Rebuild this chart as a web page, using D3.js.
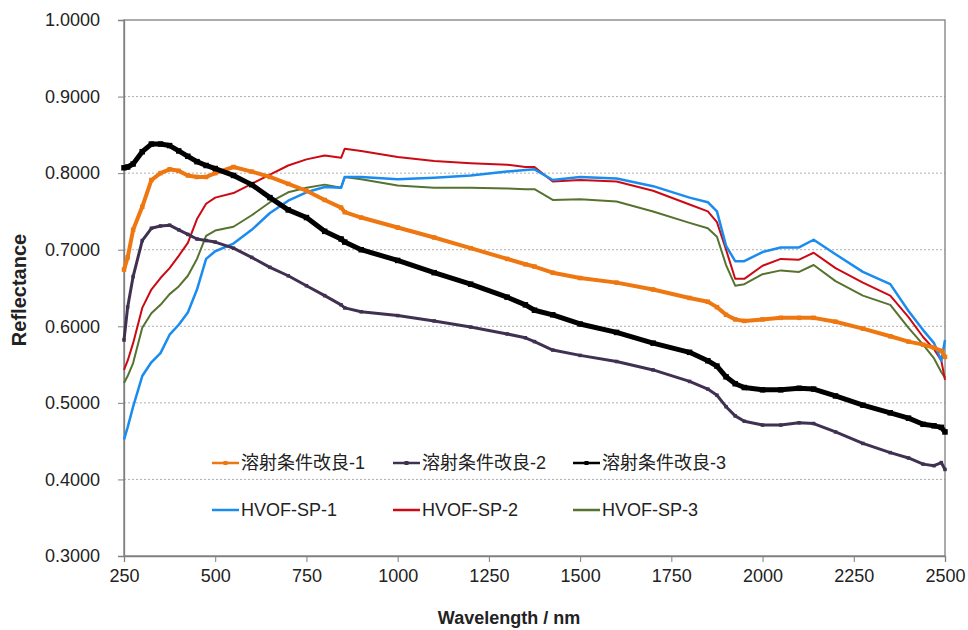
<!DOCTYPE html>
<html>
	<head>
		<meta charset="utf-8">
		<title>Reflectance</title>
		<style>
			body { margin: 0; background: #fff; overflow: hidden; }
			svg { position: absolute; font-family: "Liberation Sans", Arial, sans-serif; }
		</style>
		<script src="https://cdn.jsdelivr.net/npm/d3@7/dist/d3.min.js"></script>
	</head>
	<body>
		<script>

		// wavelength grid (nm)
		var wavelength = [250, 260, 275, 300, 325, 350, 375, 400, 425, 450, 475, 500, 550, 600, 650, 700, 750, 800, 845, 855, 900, 1000, 1100, 1200, 1300, 1350, 1375, 1425, 1500, 1600, 1700, 1800, 1850, 1875, 1900, 1925, 1950, 2000, 2050, 2100, 2140, 2200, 2275, 2350, 2400, 2440, 2470, 2490, 2500];

		var kairyo1 = [0.674, 0.690, 0.726, 0.756, 0.791, 0.800, 0.805, 0.803, 0.797, 0.795, 0.795, 0.800, 0.808, 0.802, 0.795, 0.786, 0.777, 0.765, 0.755, 0.749, 0.742, 0.729, 0.716, 0.702, 0.688, 0.681, 0.678, 0.670, 0.663, 0.657, 0.648, 0.637, 0.632, 0.625, 0.615, 0.609, 0.607, 0.609, 0.611, 0.611, 0.611, 0.606, 0.597, 0.587, 0.580, 0.576, 0.572, 0.568, 0.560];
		var kairyo2 = [0.582, 0.625, 0.665, 0.712, 0.728, 0.731, 0.732, 0.726, 0.720, 0.714, 0.712, 0.710, 0.702, 0.690, 0.677, 0.666, 0.653, 0.640, 0.628, 0.624, 0.619, 0.614, 0.607, 0.599, 0.590, 0.585, 0.580, 0.569, 0.562, 0.554, 0.543, 0.528, 0.518, 0.510, 0.495, 0.483, 0.476, 0.471, 0.471, 0.474, 0.473, 0.462, 0.447, 0.435, 0.428, 0.420, 0.418, 0.422, 0.413];
		var kairyo3 = [0.807, 0.808, 0.812, 0.828, 0.838, 0.838, 0.836, 0.829, 0.822, 0.815, 0.810, 0.806, 0.797, 0.785, 0.768, 0.752, 0.742, 0.724, 0.714, 0.710, 0.700, 0.686, 0.670, 0.655, 0.638, 0.628, 0.621, 0.615, 0.603, 0.592, 0.578, 0.566, 0.555, 0.548, 0.534, 0.525, 0.520, 0.517, 0.517, 0.519, 0.518, 0.509, 0.497, 0.487, 0.480, 0.472, 0.470, 0.468, 0.462];
		var hvof1 = [0.452, 0.468, 0.495, 0.535, 0.553, 0.565, 0.589, 0.602, 0.618, 0.648, 0.688, 0.698, 0.708, 0.726, 0.748, 0.764, 0.775, 0.782, 0.781, 0.795, 0.795, 0.792, 0.794, 0.797, 0.802, 0.804, 0.805, 0.791, 0.795, 0.793, 0.783, 0.768, 0.762, 0.750, 0.705, 0.685, 0.685, 0.697, 0.703, 0.703, 0.713, 0.694, 0.671, 0.655, 0.620, 0.595, 0.578, 0.555, 0.582];
		var hvof2 = [0.543, 0.555, 0.578, 0.624, 0.648, 0.663, 0.676, 0.692, 0.709, 0.740, 0.760, 0.768, 0.774, 0.786, 0.798, 0.810, 0.818, 0.823, 0.820, 0.832, 0.829, 0.821, 0.816, 0.813, 0.811, 0.808, 0.808, 0.789, 0.791, 0.789, 0.777, 0.759, 0.750, 0.736, 0.700, 0.662, 0.662, 0.679, 0.688, 0.687, 0.696, 0.676, 0.657, 0.640, 0.612, 0.586, 0.570, 0.555, 0.530];
		var hvof3 = [0.526, 0.535, 0.552, 0.598, 0.617, 0.628, 0.642, 0.652, 0.666, 0.688, 0.718, 0.725, 0.730, 0.745, 0.762, 0.775, 0.781, 0.785, 0.781, 0.795, 0.792, 0.784, 0.781, 0.781, 0.780, 0.779, 0.779, 0.765, 0.766, 0.763, 0.750, 0.735, 0.728, 0.717, 0.680, 0.653, 0.655, 0.668, 0.673, 0.671, 0.680, 0.659, 0.640, 0.628, 0.598, 0.576, 0.558, 0.540, 0.533];

		var seriesNames = ["溶射条件改良-1", "溶射条件改良-2", "溶射条件改良-3", "HVOF-SP-1", "HVOF-SP-2", "HVOF-SP-3"];
		var seriesValues = [kairyo1, kairyo2, kairyo3, hvof1, hvof2, hvof3];
		var xTicks = [250, 500, 750, 1000, 1250, 1500, 1750, 2000, 2250, 2500];
		var yTicks = [0.3, 0.4, 0.5, 0.6, 0.7, 0.8, 0.9, 1.0];

		var colors = ["#EE7711", "#403152", "#000000", "#1A8CF0", "#CC0A14", "#56722F"];
		var widths = [4, 3, 5, 2.5, 2, 2];
		var hasMarker = [true, true, true, false, false, false];

		var w = 968,
			h = 630,
			plotL = 124, plotR = 945, plotT = 20, plotB = 556;

		var svg = d3.select("body").append("svg")
			.attr("width", w)
			.attr("height", h);

		var x = d3.scaleLinear().domain([250, 2500]).range([plotL, plotR]);
		var y = d3.scaleLinear().domain([0.3, 1.0]).range([plotB, plotT]);

		// grid
		svg.append("g").selectAll("line")
			.data(yTicks.slice(1, -1))
			.enter().append("line")
			.attr("x1", plotL).attr("x2", plotR)
			.attr("y1", function(d){ return y(d); })
			.attr("y2", function(d){ return y(d); })
			.attr("stroke", "#b0b0b0")
			.attr("stroke-width", 1)
			.attr("stroke-dasharray", "2,2");

		// frame
		svg.append("rect")
			.attr("x", plotL).attr("y", plotT)
			.attr("width", plotR - plotL).attr("height", plotB - plotT)
			.attr("fill", "none")
			.attr("stroke", "#7f7f7f")
			.attr("stroke-width", 1.3);

		var xAxis = svg.append("g")
			.attr("transform", "translate(0," + plotB + ")")
			.call(d3.axisBottom(x).tickValues(xTicks).tickSize(6).tickPadding(6).tickFormat(d3.format("d")));

		var yAxis = svg.append("g")
			.attr("transform", "translate(" + plotL + ",0)")
			.call(d3.axisLeft(y).tickValues(yTicks).tickSize(6).tickPadding(18).tickFormat(d3.format(".4f")));

		[xAxis, yAxis].forEach(function(a){
			a.select(".domain").attr("stroke", "#7f7f7f").attr("stroke-width", 1.3);
			a.selectAll(".tick line").attr("stroke", "#7f7f7f");
			a.selectAll("text").attr("font-size", "18px").attr("fill", "#222")
				.attr("font-family", "'Liberation Sans', Arial, sans-serif");
		});
		xAxis.selectAll("text").attr("dy", "0.8em");

		// lines
		var line = d3.line()
			.x(function(d, i){ return x(wavelength[i]); })
			.y(function(d){ return y(d); });

		var drawOrder = [5, 4, 3, 1, 0, 2];
		drawOrder.forEach(function(k){
			svg.append("path")
				.datum(seriesValues[k])
				.attr("d", line)
				.attr("fill", "none")
				.attr("stroke", colors[k])
				.attr("stroke-width", widths[k])
				.attr("stroke-linejoin", "round");
			if (hasMarker[k]) {
				var s = widths[k] + 0.5;
				svg.append("g").selectAll("rect")
					.data(seriesValues[k])
					.enter().append("rect")
					.attr("x", function(d, i){ return x(wavelength[i]) - s / 2; })
					.attr("y", function(d){ return y(d) - s / 2; })
					.attr("width", s).attr("height", s)
					.attr("fill", colors[k]);
			}
		});

		// legend
		var legendX = [212, 393, 573],
			legendY = [463, 510];

		seriesNames.forEach(function(name, k){
			var lx = legendX[k % 3], ly = legendY[Math.floor(k / 3)];
			var g = svg.append("g").attr("transform", "translate(" + lx + "," + ly + ")");
			g.append("line")
				.attr("x1", 0).attr("x2", 27)
				.attr("y1", 0).attr("y2", 0)
				.attr("stroke", colors[k])
				.attr("stroke-width", 2.5);
			if (hasMarker[k]) {
				g.append("rect").attr("x", 11.5).attr("y", -2).attr("width", 4).attr("height", 4)
					.attr("fill", colors[k]);
			}
			g.append("text")
				.attr("x", 29).attr("y", 0).attr("dy", "0.35em")
				.attr("font-size", "18px")
				.attr("fill", "#222")
				.attr("font-family", "'Liberation Sans', 'Noto Sans CJK JP', sans-serif")
				.text(name);
		});

		// axis titles
		svg.append("text")
			.attr("x", 509).attr("y", 624)
			.attr("text-anchor", "middle")
			.attr("font-size", "18px").attr("font-weight", "bold")
			.attr("fill", "#222")
			.text("Wavelength / nm");

		svg.append("text")
			.attr("transform", "translate(26,290) rotate(-90)")
			.attr("text-anchor", "middle")
			.attr("font-size", "20px").attr("font-weight", "bold")
			.attr("fill", "#222")
			.text("Reflectance");

		</script>
	</body>
</html>
